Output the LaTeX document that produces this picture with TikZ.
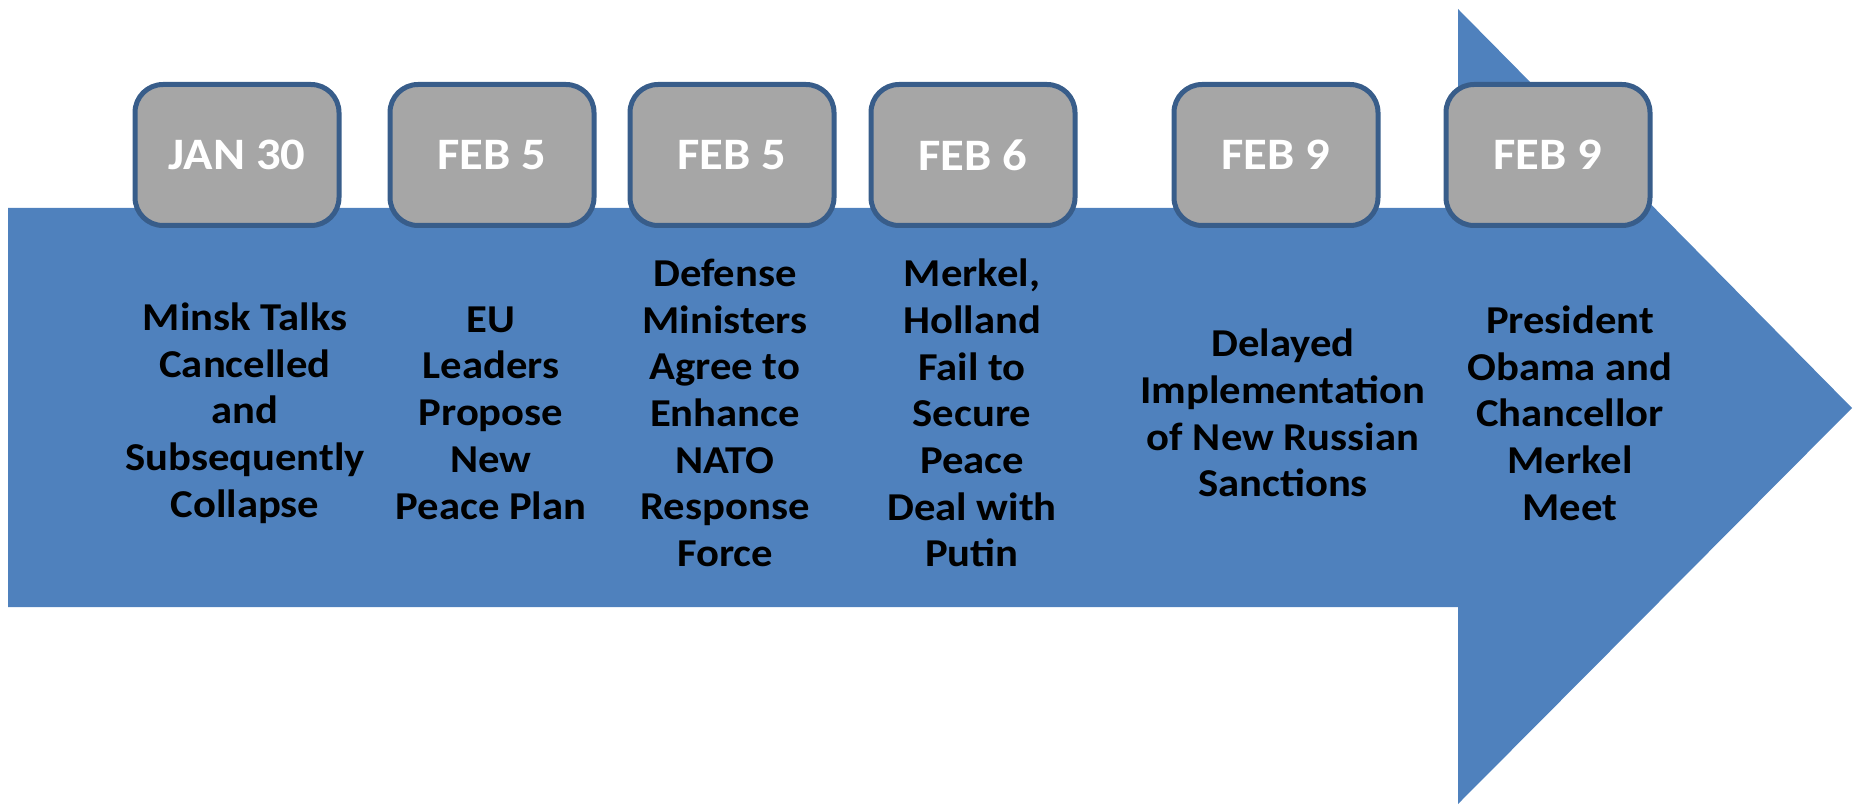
\documentclass[tikz,border=0pt]{standalone}
\usepackage{fontspec}
\setmainfont{Carlito}[FakeStretch=1.08]

\definecolor{arrowblue}{HTML}{4F81BD}
\definecolor{boxgray}{HTML}{A6A6A6}
\definecolor{boxedge}{HTML}{385D8A}

\begin{document}
\begin{tikzpicture}[x=1pt,y=-1pt,
    datebox/.style={draw=boxedge, line width=5pt, fill=boxgray, rounded corners=28pt,
      minimum width=204pt, minimum height=141pt, inner sep=0pt,
      text=white, font=\fontsize{45}{50}\selectfont\bfseries},
    event/.style={align=center, inner sep=0pt,
      font=\fontsize{39.5}{46.7}\selectfont\bfseries}]
  \useasboundingbox (0,0) rectangle (1853,805);

  % big arrow
  \fill[arrowblue] (8,208) -- (1458,208) -- (1458,9) -- (1852,408)
    -- (1458,804) -- (1458,607) -- (8,607) -- cycle;

  % dates
  \node[datebox] (d1) at (237,155) {JAN 30};
  \node[datebox] (d2) at (492,155) {FEB 5};
  \node[datebox] (d3) at (732,155) {FEB 5};
  \node[datebox] (d4) at (973,155) {FEB 6};
  \node[datebox] (d5) at (1276,155) {FEB 9};
  \node[datebox] (d6) at (1548,155) {FEB 9};

  % events
  \node[event] (e1) at (245,413) {Minsk Talks\\Cancelled\\and\\Subsequently\\Collapse};
  \node[event] (e2) at (491,413) {EU\\Leaders\\Propose\\New\\Peace Plan};
  \node[event] (e3) at (725,413) {Defense\\Ministers\\Agree to\\Enhance\\NATO\\Response\\Force};
  \node[event] (e4) at (972,413) {Merkel,\\Holland\\Fail to\\Secure\\Peace\\Deal with\\Putin};
  \node[event] (e5) at (1283,413) {Delayed\\Implementation\\of New Russian\\Sanctions};
  \node[event] (e6) at (1570,413) {President\\Obama and\\Chancellor\\Merkel\\Meet};
\end{tikzpicture}
\end{document}
